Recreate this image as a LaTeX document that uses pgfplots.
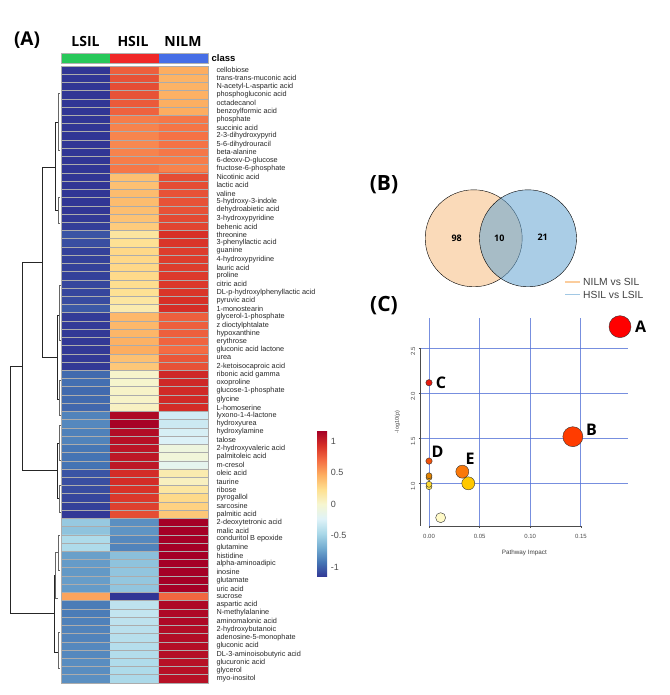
\documentclass[border=0pt]{standalone}
\usepackage{pgfplots}
\pgfplotsset{compat=1.18}
\usepackage{fontspec}
\setmainfont{Liberation Sans}
\newfontfamily\headfont{Open Sans}

\definecolor{peach}{RGB}{250,218,185}
\definecolor{vblue}{RGB}{100,164,210}
\definecolor{gridblue}{RGB}{85,115,215}
\definecolor{clsgreen}{RGB}{40,200,90}
\definecolor{clsred}{RGB}{240,40,40}
\definecolor{clsblue}{RGB}{70,110,230}

\pgfplotsset{colormap={rdylbu}{rgb255=(49,54,149) rgb255=(69,117,180) rgb255=(116,173,209)
  rgb255=(171,217,233) rgb255=(224,243,248) rgb255=(246,246,208) rgb255=(254,224,144)
  rgb255=(253,174,97) rgb255=(244,109,67) rgb255=(215,48,39) rgb255=(165,0,38)}}

\begin{document}
\begin{tikzpicture}
\path[use as bounding box] (0,0) rectangle (669pt,695pt);

% ---------- (A) heatmap ----------
\begin{axis}[
    at={(61pt,12pt)}, anchor=south west,
    scale only axis, width=147pt, height=617pt,
    xmin=-0.5, xmax=2.5, ymin=-0.5, ymax=74.5, y dir=reverse,
    colormap name=rdylbu, point meta min=-1.16, point meta max=1.16,
    xtick=\empty, ytick={0,...,74},
    yticklabel pos=right,
    yticklabels={cellobiose,trans-trans-muconic acid,N-acetyl-L-aspartic acid,phosphogluconic acid,
      octadecanol,benzoylformic acid,phosphate,succinic acid,2-3-dihydroxypyrid,5-6-dihydrouracil,
      beta-alanine,6-deoxv-D-glucose,fructose-6-phosphate,Nicotinic acid,lactic acid,valine,
      5-hydroxy-3-indole,dehydroabietic acid,3-hydroxypyridine,behenic acid,threonine,
      3-phenyllactic acid,guanine,4-hydroxypyridine,lauric acid,proline,citric acid,
      DL-p-hydroxylphenyllactic acid,pyruvic acid,1-monostearin,glycerol-1-phosphate,
      z dioctylphtalate,hypoxanthine,erythrose,gluconic acid lactone,urea,2-ketoisocaproic acid,
      ribonic acid gamma,oxoproline,glucose-1-phosphate,glycine,L-homoserine,lyxono-1-4-lactone,
      hydroxyurea,hydroxylamine,talose,2-hydroxyvaleric acid,palmitoleic acid,m-cresol,oleic acid,
      taurine,ribose,pyrogallol,sarcosine,palmitic acid,2-deoxytetronic acid,malic acid,
      conduritol B epoxide,glutamine,histidine,alpha-aminoadipic,inosine,glutamate,uric acid,
      sucrose,aspartic acid,N-methylalanine,aminomalonic acid,2-hydroxybutanoic,
      adenosine-5-monophate,gluconic acid,DL-3-aminoisobutyric acid,glucuronic acid,glycerol,
      myo-inositol},
    yticklabel style={font=\fontsize{7.3}{8}\selectfont, text=black!85, anchor=west, xshift=5pt},
    minor xtick={0.5,1.5}, minor ytick={0.5,1.5,...,73.5},
    grid=minor, minor grid style={gray!65, line width=0.7pt},
    major tick length=0pt, minor tick length=0pt,
    axis line style={gray!65, line width=0.7pt},
    axis on top,
    colorbar,
    colorbar style={
      at={(parent axis.south east)}, anchor=south west, xshift=100.7pt, yshift=106pt,
      scale only axis, width=10pt, height=146pt,
      ytick={-1,-0.5,0,0.5,1}, yticklabels={-1,-0.5,0,0.5,1},
      yticklabel style={font=\fontsize{9}{10}\selectfont, text=black!70},
      axis line style={draw=none}, major tick length=0pt,
    },
]
\addplot[matrix plot*, mesh/cols=3, point meta=explicit] table[row sep=\\, meta=c]{
x y c\\
0 0 -1.16\\ 1 0 0.75\\ 2 0 0.47\\
0 1 -1.16\\ 1 1 0.80\\ 2 1 0.44\\
0 2 -1.16\\ 1 2 0.82\\ 2 2 0.44\\
0 3 -1.16\\ 1 3 0.80\\ 2 3 0.45\\
0 4 -1.16\\ 1 4 0.77\\ 2 4 0.46\\
0 5 -1.16\\ 1 5 0.74\\ 2 5 0.47\\
0 6 -1.16\\ 1 6 0.64\\ 2 6 0.66\\
0 7 -1.16\\ 1 7 0.62\\ 2 7 0.67\\
0 8 -1.16\\ 1 8 0.61\\ 2 8 0.68\\
0 9 -1.16\\ 1 9 0.60\\ 2 9 0.68\\
0 10 -1.16\\ 1 10 0.62\\ 2 10 0.66\\
0 11 -1.16\\ 1 11 0.64\\ 2 11 0.64\\
0 12 -1.16\\ 1 12 0.66\\ 2 12 0.62\\
0 13 -1.16\\ 1 13 0.38\\ 2 13 0.82\\
0 14 -1.16\\ 1 14 0.38\\ 2 14 0.82\\
0 15 -1.16\\ 1 15 0.40\\ 2 15 0.80\\
0 16 -1.16\\ 1 16 0.40\\ 2 16 0.80\\
0 17 -1.16\\ 1 17 0.39\\ 2 17 0.80\\
0 18 -1.15\\ 1 18 0.37\\ 2 18 0.83\\
0 19 -1.13\\ 1 19 0.33\\ 2 19 0.85\\
0 20 -1.05\\ 1 20 0.18\\ 2 20 0.93\\
0 21 -1.07\\ 1 21 0.22\\ 2 21 0.91\\
0 22 -1.12\\ 1 22 0.27\\ 2 22 0.88\\
0 23 -1.12\\ 1 23 0.27\\ 2 23 0.88\\
0 24 -1.12\\ 1 24 0.27\\ 2 24 0.88\\
0 25 -1.12\\ 1 25 0.26\\ 2 25 0.89\\
0 26 -1.10\\ 1 26 0.24\\ 2 26 0.90\\
0 27 -1.10\\ 1 27 0.22\\ 2 27 0.91\\
0 28 -1.08\\ 1 28 0.17\\ 2 28 0.93\\
0 29 -1.03\\ 1 29 0.12\\ 2 29 0.94\\
0 30 -1.14\\ 1 30 0.42\\ 2 30 0.75\\
0 31 -1.14\\ 1 31 0.42\\ 2 31 0.75\\
0 32 -1.15\\ 1 32 0.43\\ 2 32 0.75\\
0 33 -1.15\\ 1 33 0.45\\ 2 33 0.73\\
0 34 -1.15\\ 1 34 0.47\\ 2 34 0.70\\
0 35 -1.15\\ 1 35 0.38\\ 2 35 0.78\\
0 36 -1.15\\ 1 36 0.35\\ 2 36 0.80\\
0 37 -0.97\\ 1 37 0.02\\ 2 37 0.97\\
0 38 -0.95\\ 1 38 0.01\\ 2 38 0.97\\
0 39 -0.97\\ 1 39 0.03\\ 2 39 0.96\\
0 40 -0.97\\ 1 40 0.03\\ 2 40 0.96\\
0 41 -0.98\\ 1 41 0.05\\ 2 41 0.95\\
0 42 -0.87\\ 1 42 1.12\\ 2 42 -0.30\\
0 43 -0.85\\ 1 43 1.15\\ 2 43 -0.32\\
0 44 -0.88\\ 1 44 1.10\\ 2 44 -0.27\\
0 45 -0.87\\ 1 45 1.08\\ 2 45 -0.25\\
0 46 -0.92\\ 1 46 1.06\\ 2 46 -0.08\\
0 47 -0.93\\ 1 47 1.05\\ 2 47 -0.05\\
0 48 -0.93\\ 1 48 1.05\\ 2 48 -0.18\\
0 49 -1.05\\ 1 49 0.95\\ 2 49 0.12\\
0 50 -1.07\\ 1 50 0.95\\ 2 50 0.06\\
0 51 -1.08\\ 1 51 0.92\\ 2 51 0.17\\
0 52 -1.10\\ 1 52 0.90\\ 2 52 0.26\\
0 53 -1.12\\ 1 53 0.87\\ 2 53 0.30\\
0 54 -1.15\\ 1 54 0.82\\ 2 54 0.35\\
0 55 -0.55\\ 1 55 -0.82\\ 2 55 1.16\\
0 56 -0.58\\ 1 56 -0.80\\ 2 56 1.16\\
0 57 -0.45\\ 1 57 -0.85\\ 2 57 1.16\\
0 58 -0.45\\ 1 58 -0.87\\ 2 58 1.16\\
0 59 -0.75\\ 1 59 -0.60\\ 2 59 1.16\\
0 60 -0.77\\ 1 60 -0.58\\ 2 60 1.16\\
0 61 -0.78\\ 1 61 -0.57\\ 2 61 1.16\\
0 62 -0.76\\ 1 62 -0.56\\ 2 62 1.16\\
0 63 -0.77\\ 1 63 -0.57\\ 2 63 1.16\\
0 64 0.50\\ 1 64 -1.16\\ 2 64 0.72\\
0 65 -0.90\\ 1 65 -0.38\\ 2 65 1.12\\
0 66 -0.90\\ 1 66 -0.36\\ 2 66 1.12\\
0 67 -0.88\\ 1 67 -0.38\\ 2 67 1.12\\
0 68 -0.87\\ 1 68 -0.40\\ 2 68 1.10\\
0 69 -0.87\\ 1 69 -0.41\\ 2 69 1.10\\
0 70 -0.85\\ 1 70 -0.42\\ 2 70 1.09\\
0 71 -0.85\\ 1 71 -0.43\\ 2 71 1.09\\
0 72 -0.83\\ 1 72 -0.44\\ 2 72 1.08\\
0 73 -0.83\\ 1 73 -0.45\\ 2 73 1.08\\
0 74 -0.82\\ 1 74 -0.46\\ 2 74 1.08\\
};
\end{axis}

% ---------- row dendrogram ----------
\begin{axis}[
    at={(0pt,12pt)}, anchor=south west,
    scale only axis, width=61pt, height=617pt,
    xmin=0, xmax=61, ymin=66, ymax=683, y dir=reverse,
    hide axis, clip=false, unbounded coords=jump,
]
\addplot[black!85, line width=0.8pt] coordinates {
  (22,366) (10,366) (10,613) (54,613) (nan,nan)
  (42.7,262) (22,262) (22,470) (57,470) (nan,nan)
  (55,167) (42.7,167) (42.7,357) (57,357) (nan,nan)
  (58,122) (55,122) (55,210) (58,210) (nan,nan)
  (59,315) (57,315) (57,399) (59,399) (nan,nan)
  (59.5,443) (57,443) (57,498) (59.5,498) (nan,nan)
  (55.7,575) (54,575) (54,652) (58.3,652)
};
\addplot[black!60, line width=0.7pt] coordinates {
  (60,93) (58,93) (58,150) (60,150) (nan,nan)
  (60,197) (58,197) (58,223) (60,223) (nan,nan)
  (60.5,285) (59,285) (59,340) (60.5,340) (nan,nan)
  (60.5,380) (59,380) (59,415) (60.5,415) (nan,nan)
  (60.5,425) (59.5,425) (59.5,460) (60.5,460) (nan,nan)
  (60.5,485) (59.5,485) (59.5,512) (60.5,512) (nan,nan)
  (58,552) (55.7,552) (55.7,598) (58,598) (nan,nan)
  (60,535) (58,535) (58,570) (60,570) (nan,nan)
  (60,632) (58.3,632) (58.3,668) (60,668)
};
\end{axis}

% ---------- (B) Venn ----------
\begin{axis}[
    at={(400pt,395pt)}, anchor=south west,
    scale only axis, width=260pt, height=130pt,
    xmin=400, xmax=660, ymin=170, ymax=300, y dir=reverse,
    hide axis, clip=false,
]
\addplot[only marks, mark=*, mark size=48.5pt, mark options={fill=peach, draw=none}]
  coordinates {(473.7,238.3)};
\addplot[only marks, mark=*, mark size=48.5pt, mark options={fill=vblue, fill opacity=0.55, draw=none}]
  coordinates {(528,238.3)};
\draw[peach!85!orange, line width=1.6pt] (axis cs:565,282) -- (axis cs:580,282);
\draw[vblue!60, line width=1.6pt] (axis cs:565,294.7) -- (axis cs:580,294.7);
\node[anchor=west, inner sep=0pt, text=black!75, font=\fontsize{10.3}{11}\selectfont]
  at (axis cs:583,282) {NILM vs SIL};
\node[anchor=west, inner sep=0pt, text=black!75, font=\fontsize{10.3}{11}\selectfont]
  at (axis cs:583,294.7) {HSIL vs LSIL};
\end{axis}

% ---------- (C) pathway impact ----------
\begin{axis}[
    at={(420.7pt,169pt)}, anchor=south west,
    scale only axis, width=207.3pt, height=208pt,
    xmin=-0.0082, xmax=0.1966, ymin=0.532, ymax=2.833,
    clip=false,
    axis line style={draw=none},
    xtick={0,0.05,0.1,0.15}, xticklabels={0.00,0.05,0.10,0.15},
    ytick={1,1.5,2,2.5}, yticklabels={1.0,1.5,2.0,2.5},
    tick pos=left, tick align=outside, major tick length=2pt,
    tick style={black!70, line width=0.4pt},
    grid=major, major grid style={gridblue, line width=0.9pt, opacity=0.8},
    xticklabel style={font=\fontsize{6}{7}\selectfont, text=black!70, yshift=-3pt},
    yticklabel style={font=\fontsize{6}{7}\selectfont, text=black!70, rotate=90, anchor=south, xshift=-3pt},
    xlabel={Pathway Impact}, ylabel={-log10(p)},
    xlabel style={font=\fontsize{6.3}{7}\selectfont, text=black!75, yshift=-4pt},
    ylabel style={font=\fontsize{5.5}{6}\selectfont, text=black!75, yshift=4pt},
]
\draw[black!70, line width=0.5pt] (axis cs:-0.0082,2.5) -- (axis cs:-0.0082,0.532);
\draw[black!70, line width=0.5pt] (axis cs:0,0.532) -- (axis cs:0.15,0.532);
\addplot[only marks, mark=*, mark size=5pt, mark options={fill={rgb,255:red,255;green,250;blue,200}, draw=black!80, line width=0.4pt}]
  coordinates {(0.0115,0.624)};
\addplot[only marks, mark=*, mark size=3pt, mark options={fill={rgb,255:red,250;green,225;blue,80}, draw=black!80, line width=0.4pt}]
  coordinates {(0,0.967)};
\addplot[only marks, mark=*, mark size=3pt, mark options={fill={rgb,255:red,250;green,215;blue,50}, draw=black!80, line width=0.4pt}]
  coordinates {(0,0.993)};
\addplot[only marks, mark=*, mark size=3pt, mark options={fill={rgb,255:red,240;green,160;blue,20}, draw=black!80, line width=0.4pt}]
  coordinates {(0,1.07)};
\addplot[only marks, mark=*, mark size=3pt, mark options={fill={rgb,255:red,225;green,130;blue,0}, draw=black!80, line width=0.4pt}]
  coordinates {(0,1.088)};
\addplot[only marks, mark=*, mark size=3.2pt, mark options={fill={rgb,255:red,240;green,80;blue,10}, draw=black!80, line width=0.4pt}]
  coordinates {(0,1.25)};
\addplot[only marks, mark=*, mark size=3.2pt, mark options={fill={rgb,255:red,230;green,25;blue,15}, draw=black!80, line width=0.4pt}]
  coordinates {(0,2.117)};
\addplot[only marks, mark=*, mark size=6.5pt, mark options={fill={rgb,255:red,250;green,120;blue,10}, draw=black!80, line width=0.4pt}]
  coordinates {(0.0329,1.133)};
\addplot[only marks, mark=*, mark size=6.5pt, mark options={fill={rgb,255:red,255;green,200;blue,0}, draw=black!80, line width=0.4pt}]
  coordinates {(0.0388,1.004)};
\addplot[only marks, mark=*, mark size=10pt, mark options={fill={rgb,255:red,255;green,60;blue,0}, draw=black!80, line width=0.4pt}]
  coordinates {(0.1421,1.52)};
\addplot[only marks, mark=*, mark size=11pt, mark options={fill={rgb,255:red,255;green,0;blue,0}, draw=black!80, line width=0.4pt}]
  coordinates {(0.1887,2.737)};
\node[anchor=west, inner sep=0pt, font=\headfont\bfseries\fontsize{16}{16}\selectfont] at (axis cs:0.2034,2.737) {A};
\node[anchor=west, inner sep=0pt, font=\headfont\bfseries\fontsize{16}{16}\selectfont] at (axis cs:0.155,1.594) {B};
\node[anchor=west, inner sep=0pt, font=\headfont\bfseries\fontsize{16}{16}\selectfont] at (axis cs:0.0066,2.12) {C};
\node[anchor=west, inner sep=0pt, font=\headfont\bfseries\fontsize{16}{16}\selectfont] at (axis cs:0.0024,1.354) {D};
\node[anchor=west, inner sep=0pt, font=\headfont\bfseries\fontsize{16}{16}\selectfont] at (axis cs:0.0361,1.27) {E};
\end{axis}

% ---------- titles, class bar, Venn counts (pixel coordinates) ----------
\begin{scope}[yshift=695pt, x=1pt, y=-1pt]
\node[font=\headfont\bfseries\fontsize{19}{19}\selectfont] at (27,40) {(A)};
\node[font=\headfont\bfseries\fontsize{21}{21}\selectfont] at (384,185) {(B)};
\node[font=\headfont\bfseries\fontsize{21}{21}\selectfont] at (384,306) {(C)};
\node[font=\headfont\bfseries\fontsize{14}{14}\selectfont] at (85.5,42) {LSIL};
\node[font=\headfont\bfseries\fontsize{14}{14}\selectfont] at (133,42) {HSIL};
\node[font=\headfont\bfseries\fontsize{14}{14}\selectfont] at (183,42) {NILM};
\fill[clsgreen] (61,53) rectangle (110,63);
\fill[clsred] (110,53) rectangle (159,63);
\fill[clsblue] (159,53) rectangle (208,63);
\draw[gray!60, line width=0.7pt] (61,53) rectangle (208,63);
\node[anchor=west, inner sep=0pt, font=\bfseries\fontsize{9.5}{10}\selectfont] at (211.5,58) {class};
\node[font=\headfont\bfseries\fontsize{9}{10}\selectfont] at (456.7,238.3) {98};
\node[font=\headfont\bfseries\fontsize{9}{10}\selectfont] at (499.3,238.3) {10};
\node[font=\headfont\bfseries\fontsize{9}{10}\selectfont] at (542.7,237.5) {21};
\end{scope}
\end{tikzpicture}
\end{document}
